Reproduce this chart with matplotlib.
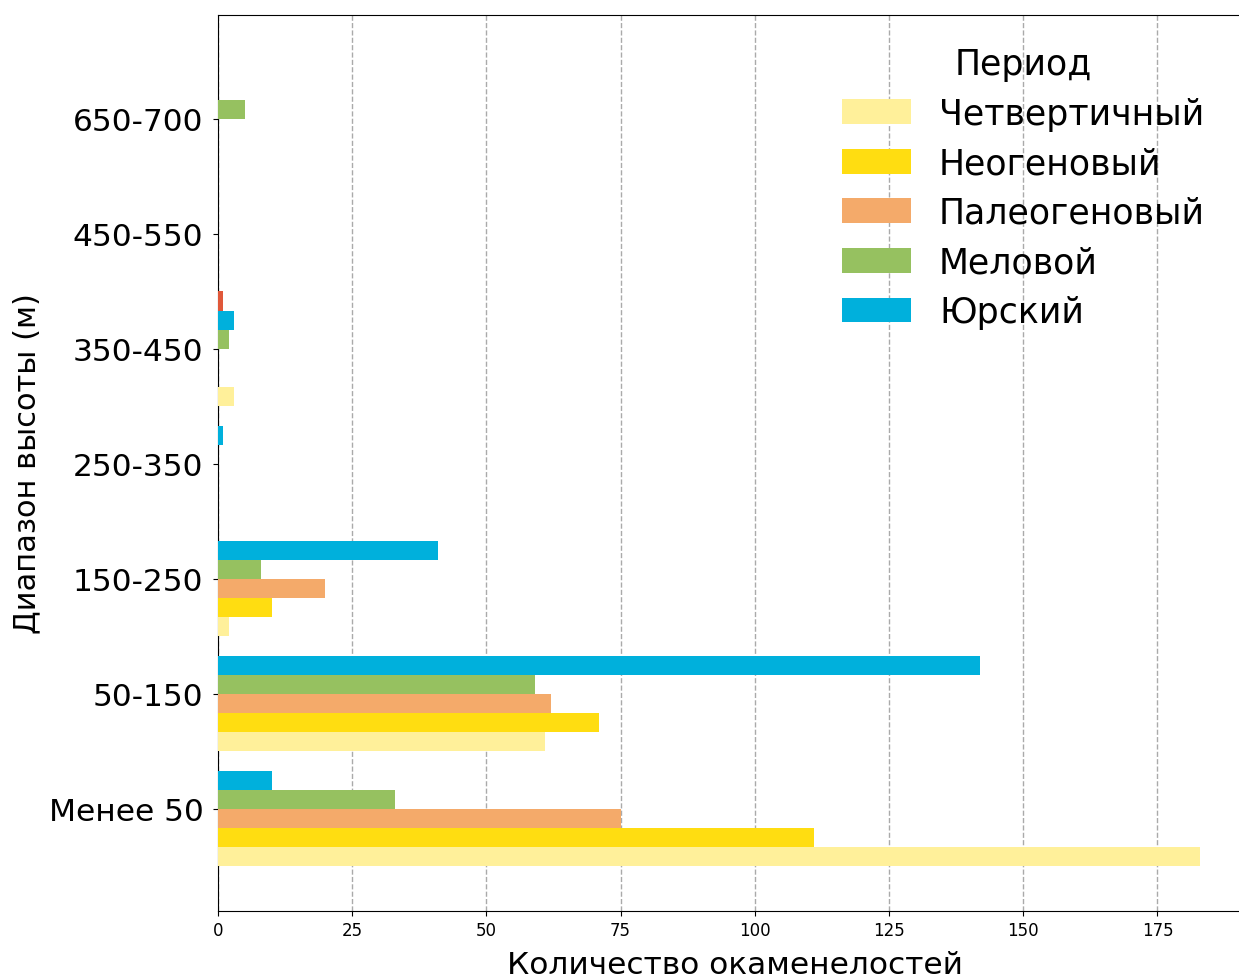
import matplotlib
matplotlib.use("Agg")
import matplotlib.pyplot as plt
from matplotlib import font_manager
import numpy as np

categories = ["Менее 50", "50-150", "150-250", "250-350", "350-450", "450-550", "650-700"]
periods = ["Четвертичный", "Неогеновый", "Палеогеновый", "Меловой", "Юрский", "Триасовый"]
quaternary = [183, 61, 2, 0, 3, 0, 0]
neogene = [111, 71, 10, 0, 0, 0, 0]
paleogene = [75, 62, 20, 0, 0, 0, 0]
cretaceous = [33, 59, 8, 0, 2, 0, 5]
jurassic = [10, 142, 41, 1, 3, 0, 0]
triassic = [0, 0, 0, 0, 1, 0, 0]
colors = ["#FFF09A", "#FFDD11", "#F4AA6A", "#96C160", "#00B0DC", "#E0583A"]

series = [quaternary, neogene, paleogene, cretaceous, jurassic, triassic]

names = {f.name for f in font_manager.fontManager.ttflist}
narrow = "Liberation Sans Narrow" if "Liberation Sans Narrow" in names else "DejaVu Sans"

fig = plt.figure(figsize=(12.39, 9.78), dpi=100)
ax = fig.add_axes([218 / 1239, (978 - 912) / 978, 1.01 - 218 / 1239, (912 - 16) / 978])

n = len(series)
h = 1.0 / n
y = np.arange(len(categories))
handles = []
for k, (vals, name, col) in enumerate(zip(series, periods, colors)):
    b = ax.barh(y - 0.5 + (k + 0.5) * h, vals, height=h, color=col, label=name, zorder=3)
    handles.append(b)

ax.set_yticks(y)
ax.set_yticklabels(categories, fontsize=22.5)
ax.tick_params(axis="y", pad=7)
ax.set_ylim(-0.887, 6.904)
ax.set_xlim(0, 192.5)
ax.set_xticks(np.arange(0, 190, 25))
for lbl in ax.get_xticklabels():
    lbl.set_family(narrow)
    lbl.set_fontsize(12)
ax.xaxis.grid(True, linestyle="--", color="#aaaaaa", linewidth=1, zorder=0)
ax.set_axisbelow(True)

ax.set_xlabel("Количество окаменелостей", fontsize=22.5, family=narrow, labelpad=8)
ax.set_ylabel("Диапазон высоты (м)", fontsize=22, family=narrow, labelpad=5)

leg = ax.legend(handles[:5], periods[:5], title="Период", fontsize=25, title_fontsize=25,
                frameon=False, loc="upper right", bbox_to_anchor=(1219 / 1239, 0.965),
                bbox_transform=fig.transFigure, borderaxespad=0,
                handlelength=2.0, handleheight=0.72, labelspacing=0.45, handletextpad=0.8)

fig.savefig("out.png", dpi=100)
